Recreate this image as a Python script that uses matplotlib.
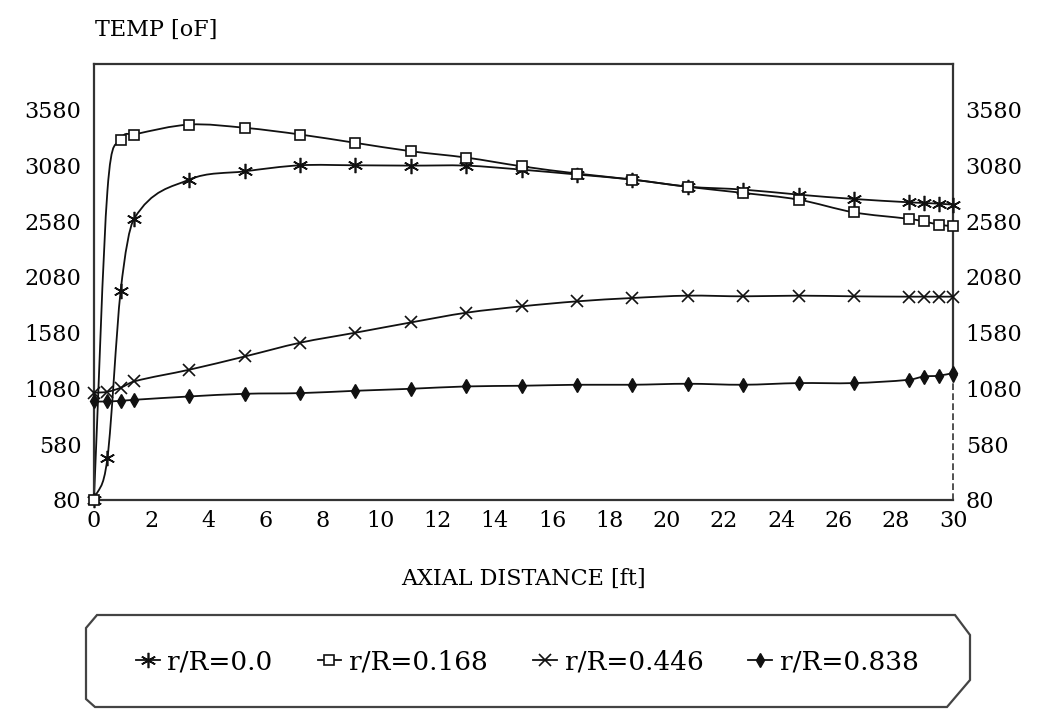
import numpy as np
import matplotlib.pyplot as plt
from matplotlib.path import Path
from matplotlib.patches import PathPatch, Polygon
from matplotlib.lines import Line2D

# axial positions [ft]
dist = [0, 0.47, 0.93, 1.4, 3.33, 5.27, 7.2, 9.13, 11.07, 13.0, 14.93,
        16.87, 18.8, 20.73, 22.67, 24.6, 26.53, 28.47, 28.98, 29.49, 30.0]

# temperatures [oF] for each radial position
t_000 = [80, 454, 1949, 2600, 2952, 3026, 3080, 3080, 3077, 3077, 3041,
         2997, 2952, 2889, 2862, 2817, 2778, 2748, 2742, 2736, 2727]
t_168 = [80, 2850, 3311, 3356, 3445, 3416, 3356, 3281, 3206, 3149, 3071,
         3006, 2952, 2887, 2832, 2772, 2658, 2599, 2577, 2548, 2533]
t_446 = [1040, 1049, 1085, 1142, 1247, 1366, 1489, 1579, 1671, 1758, 1815,
         1860, 1890, 1911, 1905, 1911, 1905, 1902, 1902, 1902, 1902]
t_838 = [962, 962, 968, 977, 1007, 1031, 1037, 1058, 1076, 1097, 1103,
         1112, 1112, 1121, 1112, 1127, 1127, 1157, 1186, 1193, 1217]

labels = ["r/R=0.0", "r/R=0.168", "r/R=0.446", "r/R=0.838"]
yticks = [80, 580, 1080, 1580, 2080, 2580, 3080, 3580]
xticks = list(range(0, 31, 2))

FONT = "DejaVu Serif"
plt.rcParams["font.family"] = FONT


def smooth_path(x, y):
    # cubic Hermite curve drawn as bezier segments (like a "smoothed line")
    x = np.asarray(x, float)
    y = np.asarray(y, float)
    n = len(x)
    m = np.zeros(n)
    m[0] = (y[1] - y[0]) / (x[1] - x[0])
    m[-1] = (y[-1] - y[-2]) / (x[-1] - x[-2])
    for i in range(1, n - 1):
        m[i] = (y[i + 1] - y[i - 1]) / (x[i + 1] - x[i - 1])
    verts = [(x[0], y[0])]
    codes = [Path.MOVETO]
    for i in range(n - 1):
        h = x[i + 1] - x[i]
        verts += [(x[i] + h / 3, y[i] + m[i] * h / 3),
                  (x[i + 1] - h / 3, y[i + 1] - m[i + 1] * h / 3),
                  (x[i + 1], y[i + 1])]
        codes += [Path.CURVE4] * 3
    return Path(verts, codes)


fig = plt.figure(figsize=(10.44, 7.09), dpi=100)
ax = fig.add_axes([0.090, 0.295, 0.823, 0.615])

styles = [
    (t_000, dict(marker=(6, 2, 0), markersize=11, markeredgewidth=1.2), None),
    (t_168, dict(marker="s", markersize=7, markerfacecolor="white", markeredgewidth=1.2),
     [i for i in range(len(dist)) if i != 1]),
    (t_446, dict(marker="x", markersize=9, markeredgewidth=1.2), None),
    (t_838, dict(marker="d", markersize=7), None),
]

handles = []
for (vals, mk, every), lab in zip(styles, labels):
    ax.add_patch(PathPatch(smooth_path(dist, vals), fill=False, lw=1.3,
                           edgecolor="#111111", zorder=2))
    ax.plot(dist, vals, linestyle="none", color="#111111", markevery=every,
            zorder=3, clip_on=False, **mk)
    handles.append(Line2D([], [], color="#111111", lw=1.3, **mk))

ax.set_xlim(0, 30)
ax.set_ylim(80, 3990)
ax.set_xticks(xticks)
ax.set_yticks(yticks)
ax.tick_params(length=0, labelsize=16, labelright=True)
ax.tick_params(axis="y", pad=9)
ax.tick_params(axis="x", pad=7)

for s in ax.spines.values():
    s.set_linewidth(1.6)
    s.set_color("#333333")
ax.spines["right"].set_bounds(t_838[-1], 3990)
ax.vlines(30, 80, t_838[-1], colors="#333333", linestyles=(0, (4, 2)),
          lw=1.2, clip_on=False)
ax.plot([30], [t_838[-1] - 45], marker="v", markersize=6, color="#111111",
        clip_on=False, zorder=4)

ax.set_xlabel("AXIAL DISTANCE [ft]", fontsize=16)
ax.xaxis.set_label_coords(0.5, -0.155)
ax.xaxis.label.set_va("top")
fig.text(0.091, 0.958, "TEMP [oF]", fontsize=16, ha="left", va="center")

# legend box with cut corners
W, H = 1044, 709
corners = [(97, 615), (955, 615), (970, 635), (970, 680), (947, 707),
           (95, 707), (86, 699), (86, 628)]
fig.patches.append(Polygon([(px / W, 1 - py / H) for px, py in corners],
                           closed=True, fill=False, lw=1.6, edgecolor="#444444",
                           transform=fig.transFigure))
fig.legend(handles, labels, loc="center", bbox_to_anchor=(0.505, 0.066),
           ncol=4, frameon=False, fontsize=19, handlelength=0.9,
           handletextpad=0.3, columnspacing=1.7)

fig.savefig("out.png", dpi=100)
